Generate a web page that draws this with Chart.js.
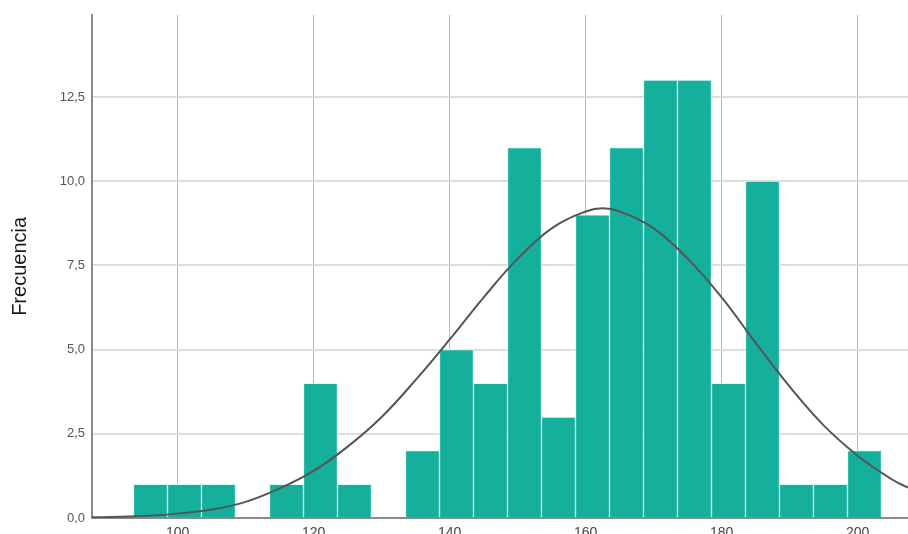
<!DOCTYPE html>
<html>
<head>
<meta charset="utf-8">
<script src="https://cdn.jsdelivr.net/npm/chart.js@4"></script>
<style>
  html, body { margin: 0; padding: 0; background: #fff; overflow: hidden; }
  #wrap { position: relative; width: 908px; height: 560px; }
</style>
</head>
<body>
<div id="wrap"><canvas id="histChart"></canvas></div>
<script>
// Bin midpoints (width 5) and counts
const binCenters = [96, 101, 106, 111, 116, 121, 126, 131, 136, 141, 146,
                    151, 156, 161, 166, 171, 176, 181, 186, 191, 196, 201];
const counts = [1, 1, 1, 0, 1, 4, 1, 0, 2, 5, 4,
                11, 3, 9, 11, 13, 13, 4, 10, 1, 1, 2];

// Normal curve, points
const curveX = [87.4, 95, 100, 105, 110, 115, 120, 125, 130, 135, 140, 145, 150,
                155, 160, 162.5, 165, 170, 175, 180, 185, 190, 195, 200, 205, 207.4];
const curveY = [0.02, 0.06, 0.13, 0.25, 0.48, 0.88, 1.4, 2.12, 3.0, 4.1, 5.3, 6.55, 7.7,
                8.6, 9.1, 9.2, 9.1, 8.6, 7.7, 6.55, 5.2, 3.9, 2.75, 1.85, 1.15, 0.9];

// Tick labels
const xTicks = [100, 120, 140, 160, 180, 200];
const xTickLabels = ['100', '120', '140', '160', '180', '200'];
const yTicks = [0, 2.5, 5, 7.5, 10, 12.5];
const yTickLabels = ['0,0', '2,5', '5,0', '7,5', '10,0', '12,5'];

const barPoints = binCenters.map((c, i) => ({ x: c, y: counts[i] }));
const curvePoints = curveX.map((c, i) => ({ x: c, y: curveY[i] }));

const ctx = document.getElementById('histChart').getContext('2d');
new Chart(ctx, {
    type: 'bar',
    data: {
        datasets: [{
            type: 'line',
            label: 'Normal',
            data: curvePoints,
            borderColor: '#555555',
            borderWidth: 2,
            pointRadius: 0,
            fill: false,
            tension: 0.4,
            order: 0
        }, {
            type: 'bar',
            label: 'Frecuencia',
            data: barPoints,
            backgroundColor: '#14b09b',
            borderColor: '#d6fbf4',
            borderWidth: 1,
            borderSkipped: 'bottom',
            barPercentage: 1,
            categoryPercentage: 1,
            order: 1
        }]
    },
    options: {
        responsive: true,
        maintainAspectRatio: false,
        animation: false,
        layout: { padding: { top: 6, right: 0, bottom: 0, left: 0 } },
        plugins: {
            legend: { display: false },
            tooltip: { enabled: false }
        },
        scales: {
            x: {
                type: 'linear',
                min: 87.4,
                max: 207.4,
                offset: false,
                afterBuildTicks: (scale) => { scale.ticks = xTicks.map(v => ({ value: v })); },
                afterFit: (scale) => { scale.height = 42; },
                grid: { color: '#b8b8b8', lineWidth: 1, drawTicks: false, offset: false },
                border: { color: '#8a8a8a', width: 2 },
                ticks: {
                    padding: 7,
                    color: '#444',
                    font: { family: 'Liberation Sans', size: 14 },
                    callback: (v) => xTickLabels[xTicks.indexOf(v)]
                }
            },
            y: {
                min: 0,
                max: 14.94,
                afterBuildTicks: (scale) => { scale.ticks = yTicks.map(v => ({ value: v })); },
                afterFit: (scale) => { scale.width = 92; },
                grid: { color: '#dddddd', lineWidth: 2, drawTicks: false },
                border: { color: '#8a8a8a', width: 2 },
                title: {
                    display: true,
                    text: 'Frecuencia',
                    color: '#1a1a1a',
                    font: { family: 'Liberation Sans', size: 20 },
                    padding: { top: 8, bottom: 0 }
                },
                ticks: {
                    padding: 7,
                    color: '#555',
                    font: { family: 'Liberation Sans', size: 13 },
                    callback: (v) => yTickLabels[yTicks.indexOf(v)]
                }
            }
        }
    }
});
</script>
</body>
</html>
